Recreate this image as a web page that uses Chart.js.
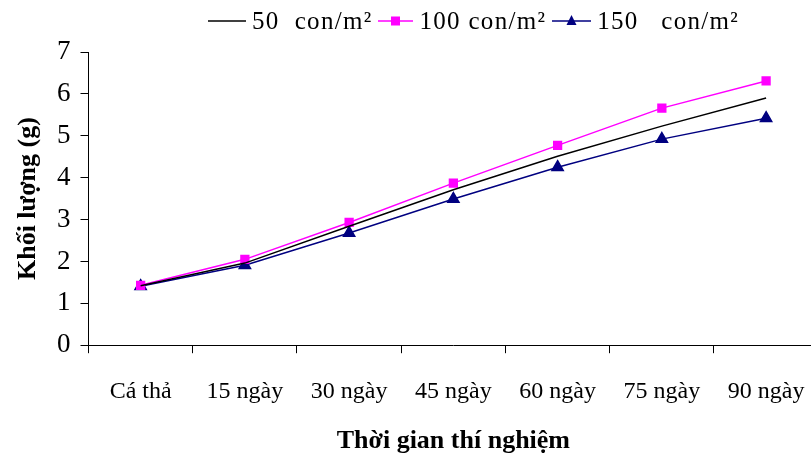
<!DOCTYPE html>
<html>
<head>
<meta charset="utf-8">
<script src="https://cdn.jsdelivr.net/npm/chart.js@4"></script>
<style>
  html, body { margin: 0; padding: 0; background: #fff; overflow: hidden; }
  #wrap { position: relative; width: 830px; height: 454px; }
  #legend { position: absolute; top: 7px; left: 208px; display: flex; align-items: center;
            font-family: "Liberation Serif", serif; font-size: 25px; letter-spacing: 1.3px; color: #000; white-space: pre; }
  #legend .item { display: flex; align-items: center; }
  #legend svg { margin-right: 6px; }
  #legend span { margin-right: 6px; }
</style>
</head>
<body>
<div id="wrap">
  <canvas id="myChart"></canvas>
  <div id="legend"></div>
</div>
<script>
var labels = ['Cá thả', '15 ngày', '30 ngày', '45 ngày', '60 ngày', '75 ngày', '90 ngày'];
var seriesNames = ['50  con/m²', '100 con/m²', '150   con/m²'];
var d50  = [1.42, 1.96, 2.84, 3.71, 4.51, 5.23, 5.90];
var d100 = [1.43, 2.05, 2.93, 3.87, 4.77, 5.66, 6.31];
var d150 = [1.41, 1.91, 2.68, 3.49, 4.25, 4.92, 5.42];
var yTicks = [0, 1, 2, 3, 4, 5, 6, 7];

var colors = ['#000000', '#FF00FF', '#000080'];
var markers = [false, 'rect', 'triangle'];
var values = [d50, d100, d150];

var datasets = [];
for (var i = 0; i < values.length; i++) {
    datasets.push({
        label: seriesNames[i],
        data: values[i],
        borderColor: colors[i],
        backgroundColor: colors[i],
        borderWidth: 1.5,
        pointStyle: markers[i],
        pointRadius: markers[i] ? (i == 2 ? 6.5 : 5.5) : 0,
        pointHoverRadius: 0,
        tension: 0
    });
}

// legend built from the same series
var legendDiv = document.getElementById('legend');
var lineLens = [38, 35, 39];
for (var i = 0; i < seriesNames.length; i++) {
    var w = lineLens[i];
    var mark = '';
    if (markers[i] == 'rect') {
        mark = '<rect x="' + (w / 2 - 4.5) + '" y="6.5" width="9" height="9" fill="' + colors[i] + '"/>';
    } else if (markers[i] == 'triangle') {
        mark = '<polygon points="' + (w / 2) + ',5 ' + (w / 2 - 5) + ',15 ' + (w / 2 + 5) + ',15" fill="' + colors[i] + '"/>';
    }
    var item = document.createElement('div');
    item.className = 'item';
    item.innerHTML = '<svg width="' + w + '" height="22"><line x1="0" y1="11" x2="' + w + '" y2="11" stroke="' + colors[i] +
        '" stroke-width="1.5"/>' + mark + '</svg><span>' + seriesNames[i] + '</span>';
    legendDiv.appendChild(item);
}

var ctx = document.getElementById('myChart').getContext('2d');
var myChart = new Chart(ctx, {
    type: 'line',
    data: { labels: labels, datasets: datasets },
    options: {
        responsive: true,
        maintainAspectRatio: false,
        animation: false,
        layout: { padding: { top: 52, left: 15, right: 0, bottom: 0 } },
        plugins: {
            legend: { display: false },
            tooltip: { enabled: false }
        },
        scales: {
            x: {
                offset: true,
                grid: { display: true, offset: true, drawOnChartArea: false, drawTicks: true, tickLength: 8, color: '#000' },
                border: { color: '#000', width: 1 },
                ticks: { color: '#000', padding: 25, maxRotation: 0, autoSkip: false,
                         font: { family: 'Liberation Serif', size: 24, lineHeight: 1.1 } },
                title: { display: true, text: 'Thời gian thí nghiệm', color: '#000', padding: { top: 0, bottom: 1 },
                         font: { family: 'Liberation Serif', size: 26, weight: 'bold', lineHeight: 0.9 } }
            },
            y: {
                min: 0,
                max: 7,
                afterBuildTicks: function(axis) {
                    axis.ticks = yTicks.map(function(v) { return { value: v }; });
                },
                grid: { display: true, drawOnChartArea: false, drawTicks: true, tickLength: 8, color: '#000' },
                border: { color: '#000', width: 1 },
                ticks: { color: '#000', padding: 10,
                         font: { family: 'Liberation Serif', size: 27 } },
                title: { display: true, text: 'Khối lượng (g)', color: '#000', padding: { top: 0, bottom: 6 },
                         font: { family: 'Liberation Serif', size: 26, weight: 'bold', lineHeight: 1.0 } }
            }
        }
    }
});
</script>
</body>
</html>
